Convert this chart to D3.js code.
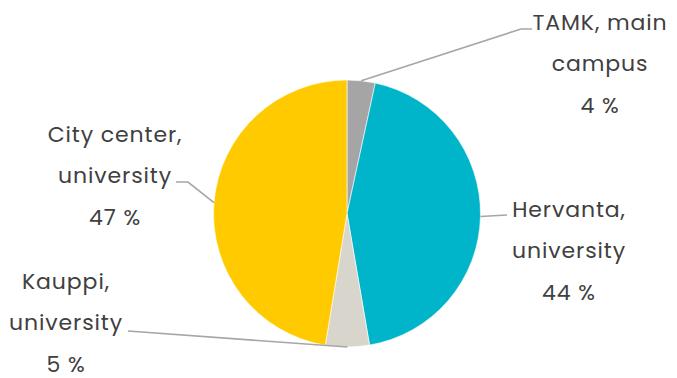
<!DOCTYPE html>
<html>
<head>
<meta charset="utf-8">
<script src="https://cdn.jsdelivr.net/npm/d3@7"></script>
<style>
  body { margin: 0; background: #fff; }
  svg text { font-family: "Poppins", "Open Sans", sans-serif; fill: #404040; }
</style>
</head>
<body>
<div id="container-pie"></div>
<script>
// data
let categories = ["TAMK, main campus", "Hervanta, university", "Kauppi, university", "City center, university"];
let labelLines = [["TAMK, main", "campus"], ["Hervanta,", "university"], ["Kauppi,", "university"], ["City center,", "university"]];
let values = [3.4, 43.9, 5.3, 47.4];
let pctLabels = ["4 %", "44 %", "5 %", "47 %"];
let colors = ["#a5a5a5", "#00b4c9", "#d8d5cd", "#ffcb00"];

// where each label sits (text centre x, first baseline y) and leader elbow/end
let labelPos = [
  { x: 600, y: 30, pts: [[521, 29], [532, 29]] },
  { x: 569, y: 217, pts: [[507, 215]] },
  { x: 66, y: 289, pts: [[128, 331]] },
  { x: 115, y: 142, pts: [[188, 182], [176, 182]] }
];

function visualizePie() {
  let vis = {};
  vis.w = 677;
  vis.h = 378;
  vis.cx = 347;
  vis.cy = 213.5;
  vis.r = 133.5;
  vis.lineH = 41.3;

  vis.svg = d3.select("#container-pie")
    .append("svg")
    .attr("width", vis.w)
    .attr("height", vis.h);

  vis.pie = d3.pie().sort(null).value(d => d)(values);
  vis.arc = d3.arc().innerRadius(0).outerRadius(vis.r);

  vis.g = vis.svg.append("g")
    .attr("transform", `translate(${vis.cx}, ${vis.cy})`);

  vis.g.selectAll(".slice")
    .data(vis.pie)
    .enter()
    .append("path")
    .attr("class", "slice")
    .attr("d", vis.arc)
    .attr("fill", (d, i) => colors[i])
    .attr("stroke", "#fff")
    .attr("stroke-width", 0.6);

  //leader lines
  vis.svg.selectAll(".leader")
    .data(vis.pie)
    .enter()
    .append("polyline")
    .attr("class", "leader")
    .attr("fill", "none")
    .attr("stroke", "#a6a6a6")
    .attr("stroke-width", 1.6)
    .attr("points", (d, i) => {
      let a = (d.startAngle + d.endAngle) / 2;
      let p0 = [vis.cx + vis.r * Math.sin(a), vis.cy - vis.r * Math.cos(a)];
      return [p0].concat(labelPos[i].pts).map(p => p.join(",")).join(" ");
    });

  //textos
  vis.labels = vis.svg.selectAll(".label")
    .data(vis.pie)
    .enter()
    .append("text")
    .attr("class", "label")
    .attr("text-anchor", "middle")
    .style("font-size", "22px")
    .style("letter-spacing", "0.9px");

  vis.labels.each(function(d, i) {
    let t = d3.select(this);
    let lines = labelLines[i].concat([pctLabels[i]]);
    lines.forEach((s, j) => {
      t.append("tspan")
        .attr("x", labelPos[i].x)
        .attr("y", labelPos[i].y + j * vis.lineH)
        .text(s);
    });
  });
}

visualizePie();
</script>
</body>
</html>
